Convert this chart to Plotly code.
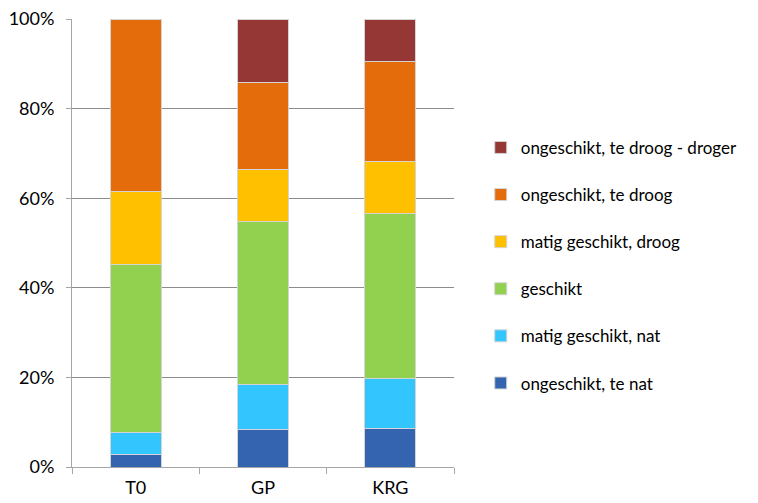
import plotly.graph_objects as go

categories = ["T0", "GP", "KRG"]

series_names = [
    "ongeschikt, te nat",
    "matig geschikt, nat",
    "geschikt",
    "matig geschikt, droog",
    "ongeschikt, te droog",
    "ongeschikt, te droog - droger",
]

te_nat = [2.8, 8.3, 8.5]
matig_nat = [4.8, 10.1, 11.2]
geschikt = [37.5, 36.3, 36.8]
matig_droog = [16.3, 11.6, 11.8]
te_droog = [38.6, 19.6, 22.3]
te_droog_droger = [0.0, 14.1, 9.4]

series_values = [te_nat, matig_nat, geschikt, matig_droog, te_droog, te_droog_droger]
colors = ["#3464b0", "#33c6fe", "#92d050", "#ffc000", "#e46c0a", "#953735"]

y_ticks = [0, 20, 40, 60, 80, 100]
y_tick_labels = ["0%", "20%", "40%", "60%", "80%", "100%"]

fig = go.Figure()
n = len(series_names)
for i, (name, vals, col) in enumerate(zip(series_names, series_values, colors)):
    fig.add_trace(go.Bar(
        x=categories,
        y=vals,
        name=name,
        legendgroup=f"g{i}",
        legendrank=n - i,  # top of the stack listed first
        marker=dict(color=col, line=dict(color="#d4d4d4", width=1)),
    ))

font_family = "Lato, 'Open Sans', sans-serif"

fig.update_layout(
    barmode="stack",
    bargap=0.6,
    width=758,
    height=503,
    margin=dict(l=72, r=304, t=19, b=36),
    plot_bgcolor="white",
    paper_bgcolor="white",
    font=dict(family=font_family, size=18, color="#000000"),
    legend=dict(
        traceorder="grouped",
        tracegroupgap=22,
        x=1.07,
        xanchor="left",
        y=0.45,
        yanchor="middle",
        font=dict(size=17, family=font_family, color="#000000"),
        itemwidth=30,
        borderwidth=0,
        bgcolor="rgba(0,0,0,0)",
    ),
    xaxis=dict(
        showline=True,
        linecolor="#a6a6a6",
        linewidth=1,
        ticks="outside",
        tickson="boundaries",
        ticklen=6,
        tickcolor="#a6a6a6",
        showgrid=False,
        tickfont=dict(size=18),
        ticklabelstandoff=4,
        automargin=False,
    ),
    yaxis=dict(
        range=[0, 100],
        tickvals=y_ticks,
        ticktext=y_tick_labels,
        showline=True,
        linecolor="#a6a6a6",
        linewidth=1,
        ticks="outside",
        ticklen=5,
        tickcolor="#a6a6a6",
        showgrid=True,
        gridcolor="#8c8c8c",
        gridwidth=1,
        zeroline=False,
        tickfont=dict(size=18),
        ticklabelstandoff=8,
        automargin=False,
    ),
)

fig.write_html("out.html")
